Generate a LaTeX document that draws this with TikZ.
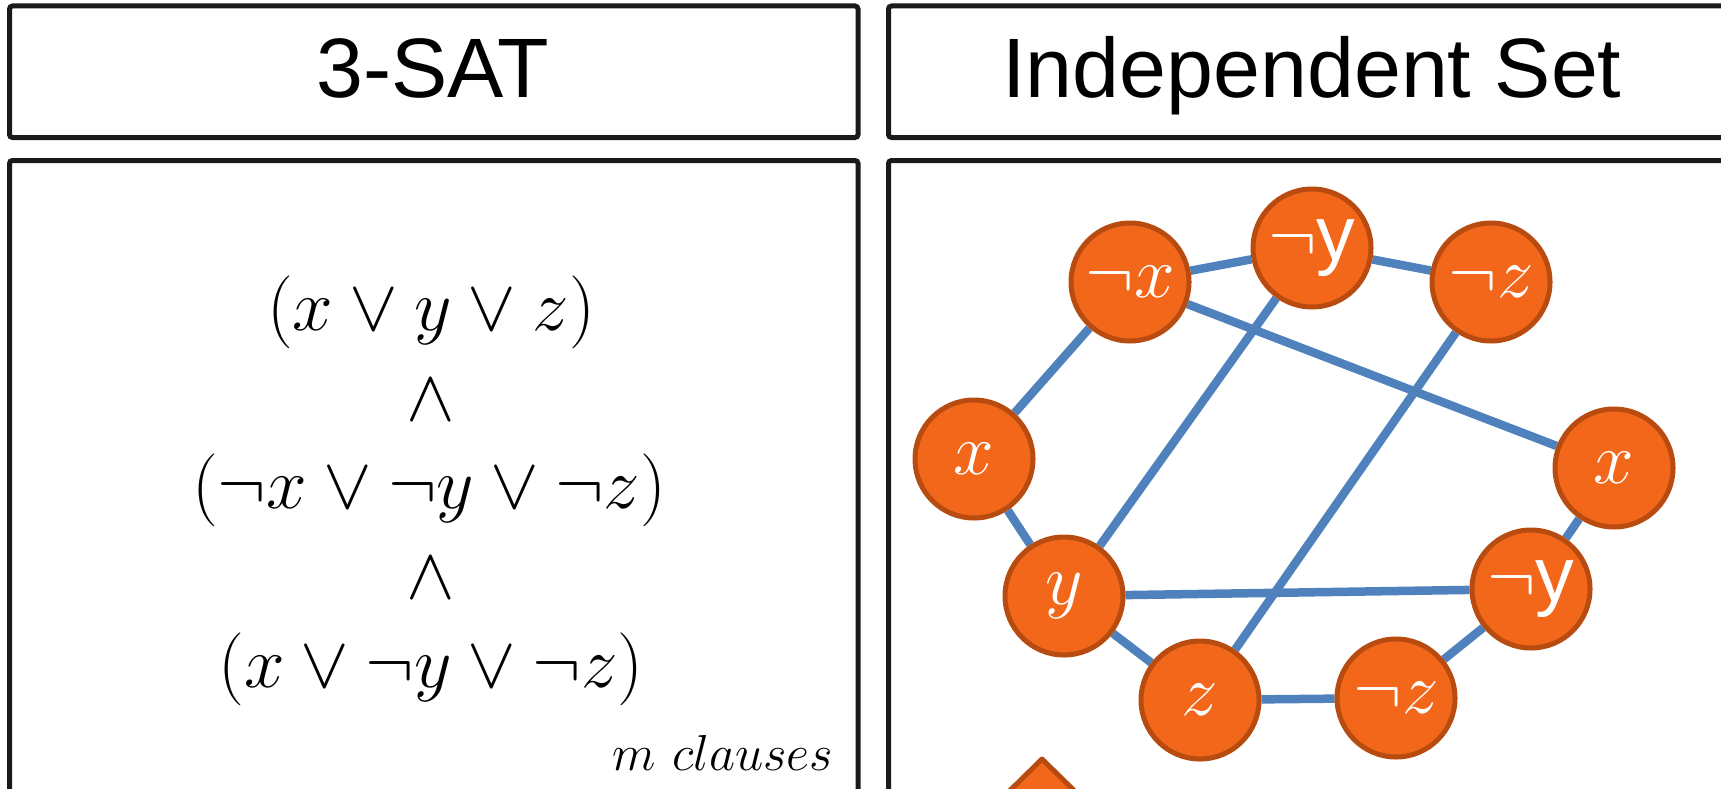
\documentclass[tikz,border=0pt]{standalone}
\usepackage{fontspec}
\setsansfont{Liberation Sans}
\usetikzlibrary{backgrounds}
\definecolor{boxline}{HTML}{1A1A1A}
\definecolor{litfill}{HTML}{F2671A}
\definecolor{litdraw}{HTML}{B84C10}
\definecolor{edgeblue}{HTML}{4F81BD}
\tikzset{
	panel/.style={draw=boxline, line width=0.5mm, rounded corners=0.3mm},
	title/.style={font=\sffamily\fontsize{24}{28}\selectfont, anchor=base},
	formula/.style={font=\fontsize{21.5}{25}\selectfont, anchor=base},
	lit/.style={circle, draw=litdraw, fill=litfill, line width=0.5mm, text=white, minimum size=11.8mm, inner sep=0pt, font=\fontsize{22}{26}\selectfont},
	conflict/.style={draw=edgeblue, line width=0.85mm}
}
\begin{document}
\begin{tikzpicture}
	\useasboundingbox (0,0) rectangle (17.21,-7.88);
	\clip (0,0) rectangle (17.21,-7.88);
	\draw[panel] (0.095,-0.06) rectangle (8.58,-1.375);
	\draw[panel] (8.885,-0.06) rectangle (17.6,-1.375);
	\draw[panel] (0.095,-1.605) rectangle (8.58,-8.5);
	\draw[panel] (8.885,-1.605) rectangle (17.6,-8.5);
	\node[title] (sat) at (4.33,-0.97) {3-SAT};
	\node[title] (indset) at (13.12,-0.97) {Independent Set};
	\node[formula] (cl1) at (4.31,-3.30) {$(x \vee y \vee z)$};
	\node[formula] (and1) at (4.31,-4.20) {$\wedge$};
	\node[formula] (cl2) at (4.29,-5.08) {$(\neg x \vee \neg y \vee \neg z)$};
	\node[formula] (and2) at (4.31,-5.98) {$\wedge$};
	\node[formula] (cl3) at (4.31,-6.87) {$(x \vee \neg y \vee \neg z)$};
	\node[font=\fontsize{15}{18}\selectfont, anchor=base east, inner sep=0pt] (mcl) at (8.34,-7.70) {$m\ clauses$};
	\node[lit] (nx) at (11.30,-2.82) {$\neg x$};
	\node[lit] (ny) at (13.12,-2.48) {$\neg$\textsf{y}};
	\node[lit] (nz) at (14.91,-2.82) {$\neg z$};
	\node[lit] (xl) at (9.74,-4.59) {$x$};
	\node[lit] (yl) at (10.64,-5.96) {$y$};
	\node[lit] (zb) at (12.00,-7.00) {$z$};
	\node[lit] (nzb) at (13.96,-6.98) {$\neg z$};
	\node[lit] (nyr) at (15.31,-5.89) {$\neg$\textsf{y}};
	\node[lit] (xr) at (16.14,-4.68) {$x$};
	\filldraw[draw=litdraw, fill=litfill, line width=0.5mm, line join=round] (9.90,-8.10) -- (10.42,-7.59) -- (10.94,-8.10) -- cycle;
	\begin{pgfonlayer}{background}
	\draw[conflict] (nx)--(ny) (ny)--(nz) (xl)--(yl) (yl)--(zb) (xr)--(nyr) (nyr)--(nzb);
	\draw[conflict] (nx)--(xl) (nx)--(xr) (ny)--(yl) (nz)--(zb) (yl)--(nyr) (zb)--(nzb);
	\end{pgfonlayer}
\end{tikzpicture}
\end{document}
